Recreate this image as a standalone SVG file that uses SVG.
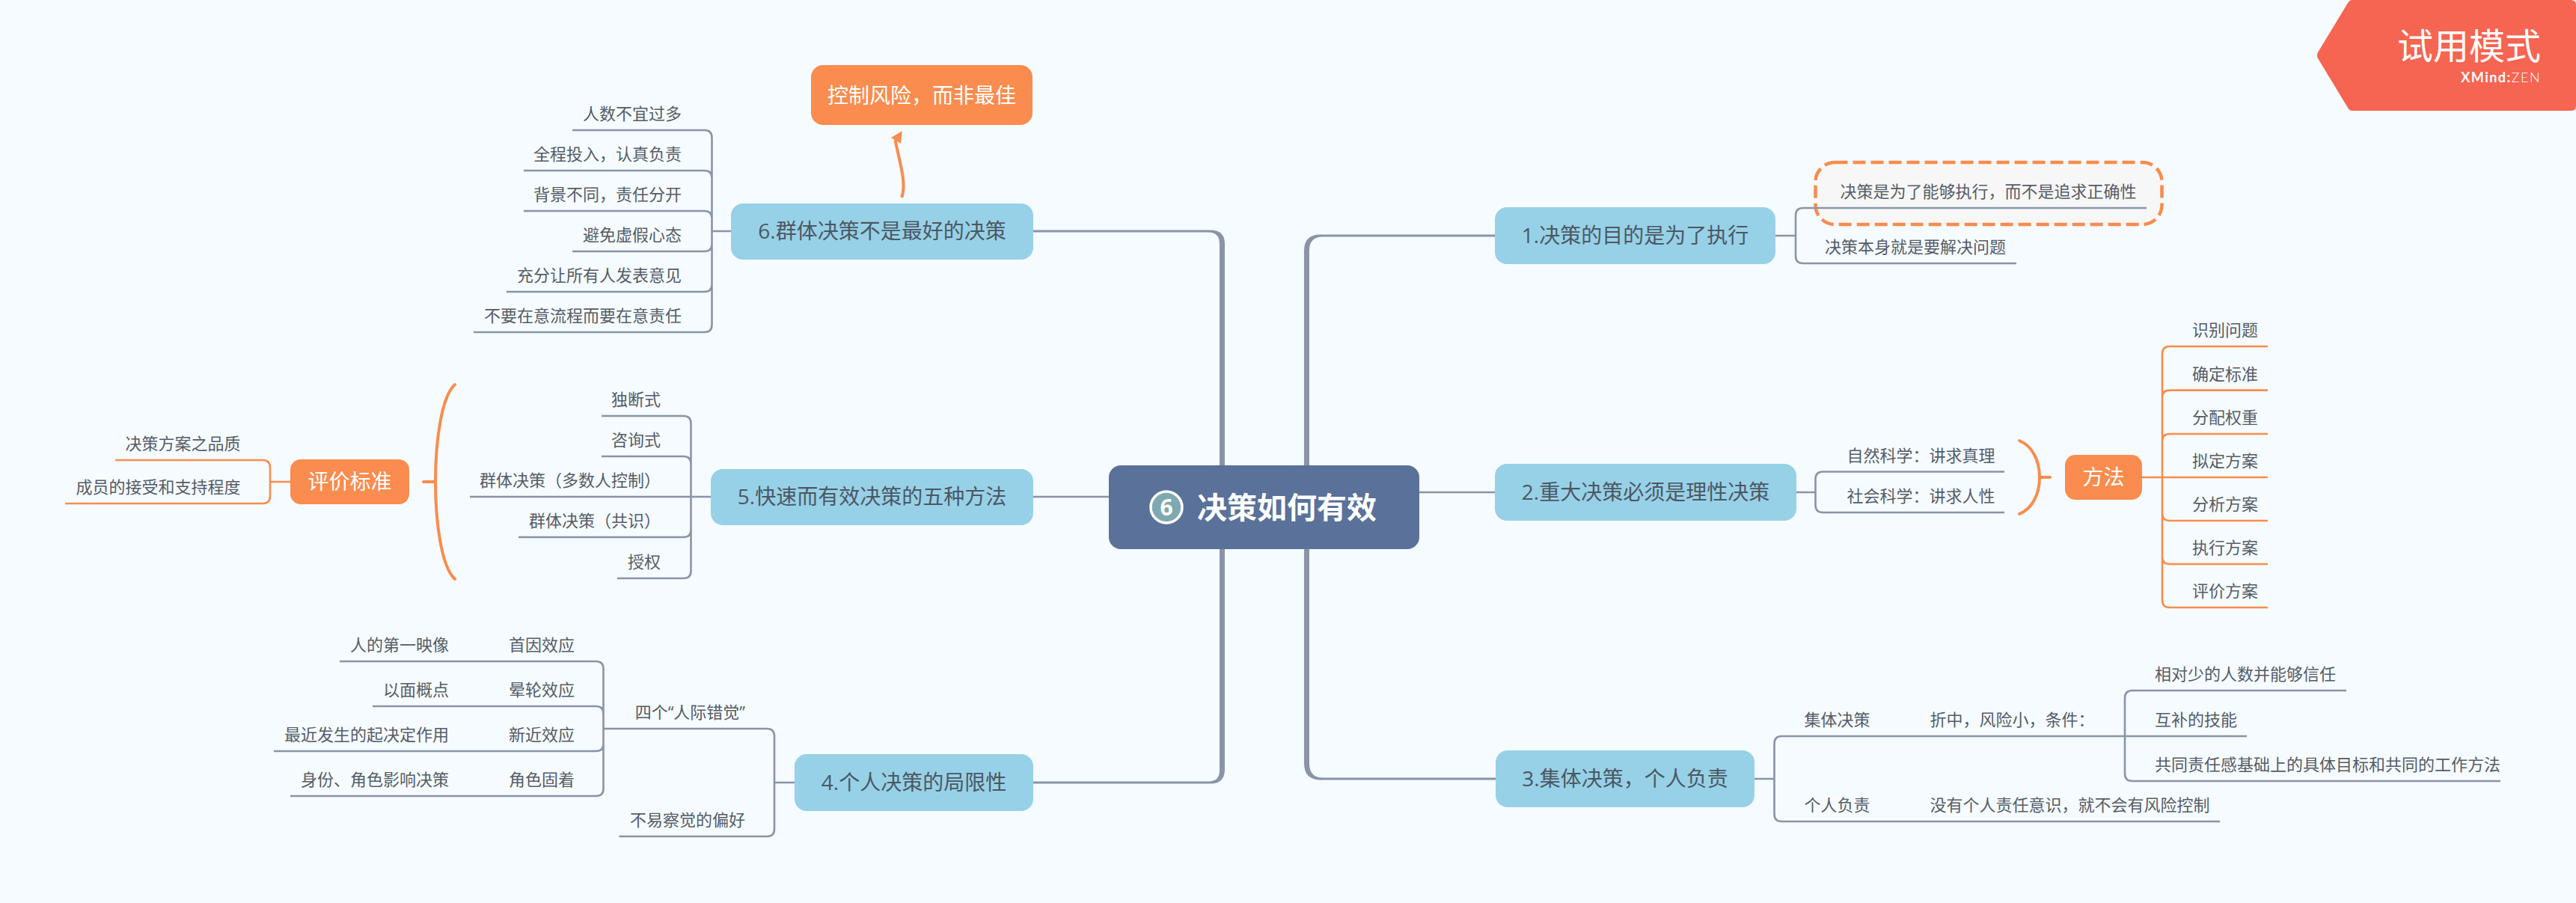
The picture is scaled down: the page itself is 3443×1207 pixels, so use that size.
<svg xmlns="http://www.w3.org/2000/svg" width="3443" height="1207" viewBox="0 0 3443 1207">
<style>
text{font-family:"Open Sans","Noto Sans CJK SC",sans-serif;}
.c{font-size:22px;fill:#565c66;}
.e{text-anchor:end;}
.m{font-size:28px;fill:#4c5763;text-anchor:middle;}
.w{font-size:28px;fill:#fff;text-anchor:middle;}
.main{fill:#97d1e7;}
.or{fill:#f98c4e;}
.l{fill:none;stroke:#8a94a8;stroke-width:2.6;}
.lo{fill:none;stroke:#f98c4e;stroke-width:2.6;}
.tr{fill:#8a94a8;}
.br{fill:none;stroke:#f98c4e;stroke-width:4;stroke-linecap:round;}
</style>
<rect width="3443" height="1207" fill="#f5fbff"/>
<g id="callout-box"><rect x="2426.500" y="217" width="463" height="83" rx="26" fill="#f7f7f7" stroke="#f98c4e" stroke-width="4.500" stroke-dasharray="17 7"/></g>
<g id="connectors">
<path class="tr" d="M1381 307.5H1618Q1637 307.5 1637 326V622H1630V326Q1630 310.500 1615 310.500H1381Z"/>
<path class="tr" d="M1381 1047.500H1618Q1637 1047.500 1637 1028V734H1630V1030Q1630 1044.500 1615 1044.500H1381Z"/>
<path class="tr" d="M1998 313.500H1765Q1743 313.500 1743 335V622H1750V335Q1750 316.500 1768 316.500H1998Z"/>
<path class="tr" d="M1999 1042.500H1765Q1743 1042.500 1743 1020V734H1750V1020Q1750 1039.500 1768 1039.500H1999Z"/>
<path class="l" stroke-width="3" d="M1897 658H1998M1381 664H1482"/>
<path class="l" d="M765 174H941.500Q951.500 174 951.500 184V309M700 228H941.500Q951.500 228 951.500 238V309M700 282H941.500Q951.500 282 951.500 292V309M765 336H941.500Q951.500 336 951.500 326V309M677 390H941.500Q951.500 390 951.500 380V309M633 444H941.500Q951.500 444 951.500 434V309M951.500 309H978"/>
<path class="l" d="M804 556H913.500Q923.500 556 923.500 566V664M804 610H913.500Q923.500 610 923.500 620V664M628 664H950M693 718H913.500Q923.500 718 923.500 708V664M825 773H913.500Q923.500 773 923.500 763V664"/>
<path class="lo" d="M154 615H351Q361 615 361 625V644M87 673H351Q361 673 361 663V644M361 644H388"/>
<path class="br" d="M608 514C590 530 582 590 582 644C582 698 590 758 608 774M582 644H566"/>
<path class="l" d="M454 884H796.500Q806.500 884 806.500 894V974M498 944H796.500Q806.500 944 806.500 954V974M366 1004H796.500Q806.500 1004 806.500 994V974M388 1064H796.500Q806.500 1064 806.500 1054V974M806.500 974H1025Q1035 974 1035 984V1046M827.500 1118H1025Q1035 1118 1035 1108V1046M1035 1046H1062"/>
<path class="l" d="M2373 315H2400M2869 278H2410Q2400 278 2400 288V315M2695 352H2410Q2400 352 2400 342V315"/>
<path class="l" d="M2401 658H2426.500M2679 630.500H2436.500Q2426.500 630.500 2426.500 640.500V658M2679 685H2436.500Q2426.500 685 2426.500 675V658"/>
<path class="br" d="M2699 589C2716 596 2726 615 2726 638C2726 661 2716 680 2699 687M2726 638H2740"/>
<path class="lo" d="M2863 638H3031M3031 463H2900Q2890 463 2890 473V638M3031 521.600H2900Q2890 521.600 2890 531.600V638M3031 580H2900Q2890 580 2890 590V638M3031 696H2900Q2890 696 2890 686V638M3031 754H2900Q2890 754 2890 744V638M3031 812H2900Q2890 812 2890 802V638"/>
<path class="l" d="M2345 1041H2371.500M3003 984H2381.500Q2371.500 984 2371.500 994V1041M2967 1098H2381.500Q2371.500 1098 2371.500 1088V1041"/>
<path class="l" d="M3136 923H2850Q2840 923 2840 933V984M3342 1044H2850Q2840 1044 2840 1034V984"/>
<path fill="none" stroke="#f98c4e" stroke-width="4" d="M1205 264C1212 245 1203 220 1196.500 187"/>
<polygon points="1205.700,175 1191,184 1204,192" fill="#f98c4e"/>
</g>
<g id="central"><rect x="1482" y="622" width="415" height="112" rx="16" fill="#5a7199"/><circle cx="1559" cy="678" r="21" fill="#7fa9b0" stroke="#fff" stroke-width="3.500"/><text x="1559" y="689" font-size="30" font-weight="700" fill="#fff" text-anchor="middle">6</text><text x="1720" y="693" font-size="40" font-weight="700" fill="#fff" text-anchor="middle">决策如何有效</text></g>
<g id="topic-1"><rect class="main" x="1998" y="277" width="375" height="76" rx="16"/><text class="m" x="2185.500" y="325">1.决策的目的是为了执行</text></g>
<g id="topic-2"><rect class="main" x="1998" y="620" width="403" height="76" rx="16"/><text class="m" x="2199.500" y="668">2.重大决策必须是理性决策</text></g>
<g id="topic-3"><rect class="main" x="1999" y="1003" width="346" height="76" rx="16"/><text class="m" x="2172" y="1051">3.集体决策，个人负责</text></g>
<g id="topic-4"><rect class="main" x="1062" y="1008" width="319" height="76" rx="16"/><text class="m" x="1221.500" y="1056">4.个人决策的局限性</text></g>
<g id="topic-5"><rect class="main" x="950" y="627" width="431" height="75" rx="16"/><text class="m" x="1165.500" y="674">5.快速而有效决策的五种方法</text></g>
<g id="topic-6"><rect class="main" x="977" y="272" width="404" height="75" rx="16"/><text class="m" x="1179" y="319">6.群体决策不是最好的决策</text></g>
<g id="callout-6"><rect class="or" x="1084" y="87" width="296" height="80" rx="16"/><text class="w" x="1232" y="138">控制风险，而非最佳</text></g>
<g id="label-pingjia"><rect class="or" x="388" y="614" width="159" height="60" rx="14"/><text class="w" x="467.500" y="654">评价标准</text></g>
<g id="label-fangfa"><rect class="or" x="2760" y="608" width="103" height="60" rx="14"/><text class="w" x="2811.500" y="648">方法</text></g>
<g id="t6-children">
<text class="c e" x="911" y="160">人数不宜过多</text>
<text class="c e" x="911" y="214">全程投入，认真负责</text>
<text class="c e" x="911" y="268">背景不同，责任分开</text>
<text class="c e" x="911" y="322">避免虚假心态</text>
<text class="c e" x="911" y="376">充分让所有人发表意见</text>
<text class="c e" x="911" y="430">不要在意流程而要在意责任</text>
</g>
<g id="t5-children">
<text class="c e" x="883" y="542">独断式</text>
<text class="c e" x="883" y="596">咨询式</text>
<text class="c e" x="883" y="650">群体决策（多数人控制）</text>
<text class="c e" x="883" y="704">群体决策（共识）</text>
<text class="c e" x="883" y="759">授权</text>
<text class="c e" x="321.500" y="601">决策方案之品质</text>
<text class="c e" x="321.500" y="659">成员的接受和支持程度</text>
</g>
<g id="t4-children">
<text class="c e" x="600" y="870">人的第一映像</text>
<text class="c e" x="768" y="870">首因效应</text>
<text class="c e" x="600" y="930">以面概点</text>
<text class="c e" x="768" y="930">晕轮效应</text>
<text class="c e" x="600" y="990">最近发生的起决定作用</text>
<text class="c e" x="768" y="990">新近效应</text>
<text class="c e" x="600" y="1050">身份、角色影响决策</text>
<text class="c e" x="768" y="1050">角色固着</text>
<text class="c e" x="996" y="960">四个“人际错觉”</text>
<text class="c e" x="996" y="1104">不易察觉的偏好</text>
</g>
<g id="t1-children">
<text class="c" x="2459.500" y="264">决策是为了能够执行，而不是追求正确性</text>
<text class="c" x="2439" y="338">决策本身就是要解决问题</text>
</g>
<g id="t2-children">
<text class="c" x="2468.500" y="617">自然科学：讲求真理</text>
<text class="c" x="2468.500" y="671">社会科学：讲求人性</text>
<text class="c" x="2930" y="449">识别问题</text>
<text class="c" x="2930" y="508">确定标准</text>
<text class="c" x="2930" y="566">分配权重</text>
<text class="c" x="2930" y="624">拟定方案</text>
<text class="c" x="2930" y="682">分析方案</text>
<text class="c" x="2930" y="740">执行方案</text>
<text class="c" x="2930" y="798">评价方案</text>
</g>
<g id="t3-children">
<text class="c" x="2411.500" y="970">集体决策</text>
<text class="c" x="2579.500" y="970">折中，风险小，条件：</text>
<text class="c" x="2411.500" y="1084">个人负责</text>
<text class="c" x="2579.500" y="1084">没有个人责任意识，就不会有风险控制</text>
<text class="c" x="2880" y="909">相对少的人数并能够信任</text>
<text class="c" x="2880" y="970">互补的技能</text>
<text class="c" x="2880" y="1030">共同责任感基础上的具体目标和共同的工作方法</text>
</g>
<g id="trial-badge"><path d="M3140 0H3436Q3443 0 3443 6V142Q3443 148 3436 148H3144Q3140 148 3138 144L3098 78Q3096 74 3098 70L3138 4Q3140 0 3144 0Z" fill="#f56551"/><text x="3396" y="79" font-size="48" fill="#fff" text-anchor="end">试用模式</text><text x="3396" y="109.500" font-size="18" fill="#fff" text-anchor="end" letter-spacing="1.500" style="font-family:Lato,sans-serif"><tspan font-weight="700">XMind:</tspan><tspan font-weight="300">ZEN</tspan></text></g>
</svg>
